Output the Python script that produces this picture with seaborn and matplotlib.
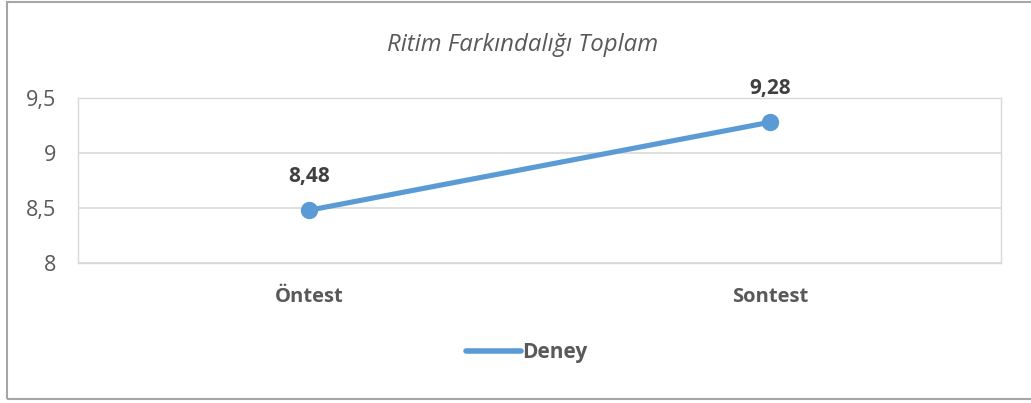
import pandas as pd
import seaborn as sns
import matplotlib.pyplot as plt
from matplotlib.patches import Rectangle

# chart data
categories = ['Öntest', 'Sontest']
deney_values = [8.48, 9.28]
y_ticks = [8, 8.5, 9, 9.5]
y_tick_labels = ['8', '8,5', '9', '9,5']
title = 'Ritim Farkındalığı Toplam'
series_name = 'Deney'

df = pd.DataFrame({'test': categories, 'score': deney_values, 'group': series_name})

sns.set_theme(style='white')
plt.rcParams['font.family'] = ['Open Sans', 'DejaVu Sans']

blue = '#5B9BD5'
text_gray = '#595959'

fig = plt.figure(figsize=(10.31, 4.03), dpi=100)
ax = fig.add_axes([0.0757, 0.347, 0.8953, 0.410])

sns.lineplot(data=df, x='test', y='score', hue='group', palette=[blue],
             marker='o', markersize=12.5, linewidth=3.7, markeredgewidth=0,
             sort=False, ax=ax, legend=True)

ax.set_xlim(-0.5, 1.5)
ax.set_ylim(8, 9.5)
ax.set_yticks(y_ticks)
ax.set_yticklabels(y_tick_labels, fontsize=15.5, color=text_gray)
ax.set_xticks(range(len(categories)))
ax.set_xticklabels(categories, fontsize=14.5, fontweight='bold', color=text_gray)
ax.tick_params(axis='both', length=0)
ax.tick_params(axis='x', pad=17)
ax.tick_params(axis='y', pad=16)
ax.set_xlabel('')
ax.set_ylabel('')

ax.grid(axis='y', color='#D9D9D9', linewidth=1.2)
for side in ['left', 'right', 'top', 'bottom']:
    ax.spines[side].set_visible(True)
    ax.spines[side].set_color('#D9D9D9')
    ax.spines[side].set_linestyle((0, (1, 1)))
    ax.spines[side].set_linewidth(1)
ax.spines['bottom'].set_linestyle('-')
ax.spines['top'].set_linestyle('-')

# data labels
for i, v in enumerate(deney_values):
    ax.annotate(f'{v:.2f}'.replace('.', ','), (i, v), xytext=(0, 24),
                textcoords='offset points', ha='center', va='center',
                fontsize=15, fontweight='bold', color='#404040')

fig.text(0.507, 0.888, title, ha='center', va='center', fontsize=17.3,
         fontstyle='italic', color=text_gray)

leg = ax.legend(loc='center', bbox_to_anchor=(0.486, -0.54), frameon=False,
                handlelength=2.6, handletextpad=0.05, prop={'size': 15, 'weight': 'bold'})
for t in leg.get_texts():
    t.set_color(text_gray)
for h in leg.get_lines():
    h.set_marker('')
    h.set_linewidth(4)
    h.set_solid_capstyle('round')

fig.patches.append(Rectangle((6.5 / 1031, 4.5 / 403), 1.05, 397 / 403, transform=fig.transFigure,
                             fill=False, edgecolor='#A6A6A6', linewidth=1.5))

fig.savefig('out.png', dpi=100)
